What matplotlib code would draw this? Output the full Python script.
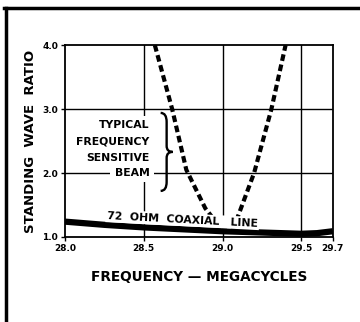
import matplotlib.pyplot as plt
from matplotlib.lines import Line2D
from matplotlib.patches import PathPatch
from matplotlib.path import Path
from matplotlib.transforms import Affine2D, IdentityTransform

# Frequência (MHz) e ROE das duas curvas
freq_coax = [28.0, 28.25, 28.5, 28.75, 29.0, 29.25, 29.5, 29.6, 29.7]
swr_coax = [1.24, 1.19, 1.15, 1.12, 1.09, 1.07, 1.05, 1.06, 1.09]

freq_beam = [28.57, 28.68, 28.77, 28.89, 29.0, 29.07, 29.20, 29.31, 29.40]
swr_beam = [4.0, 3.0, 2.05, 1.45, 1.10, 1.14, 2.0, 3.0, 4.0]

xticks = [28.0, 28.5, 29.0, 29.5, 29.7]
xlabels = ["28.0", "28.5", "29.0", "29.5", "29.7"]
yticks = [1.0, 2.0, 3.0, 4.0]
ylabels = ["1.0", "2.0", "3.0", "4.0"]

fonte = "DejaVu Sans"

fig = plt.figure(figsize=(3.6, 3.22), dpi=100)
ax = fig.add_axes([0.1806, 0.264, 0.744, 0.596])

# grade manual
for x in [28.5, 29.0, 29.5]:
    ax.axvline(x, color="black", lw=1.0, zorder=1)
for y in [2.0, 3.0]:
    ax.axhline(y, color="black", lw=1.0, zorder=1)

ax.plot(freq_coax, swr_coax, color="black", lw=4.5, solid_capstyle="butt", zorder=3)
ax.plot(freq_beam, swr_beam, color="black", lw=3.0, linestyle=(0, (1.6, 0.9)),
        dash_capstyle="butt", zorder=2)

ax.set_xlim(28.0, 29.7)
ax.set_ylim(1.0, 4.0)
ax.set_xticks(xticks)
ax.set_xticklabels(xlabels)
ax.set_yticks(yticks)
ax.set_yticklabels(ylabels)
ax.tick_params(length=3, width=1, pad=2, labelsize=6.5)
for lbl in ax.get_xticklabels() + ax.get_yticklabels():
    lbl.set_family(fonte)
    lbl.set_weight("bold")
for s in ax.spines.values():
    s.set_linewidth(1.3)

ax.set_xlabel("FREQUENCY — MEGACYCLES", family=fonte, weight="bold",
              fontsize=9.8, labelpad=12)
ax.set_ylabel("STANDING  WAVE  RATIO", family=fonte, weight="bold",
              fontsize=9.5, labelpad=4)

caixa = dict(facecolor="white", edgecolor="none", pad=3.2)
linhas = [("TYPICAL", 2.75), ("FREQUENCY", 2.49), ("SENSITIVE", 2.24), ("BEAM", 2.0)]
for txt, y in linhas:
    ax.text(28.537, y, txt, ha="right", va="center", family=fonte, weight="bold",
            fontsize=7.8, bbox=caixa, zorder=4)

# chave "}" desenhada em pixels em torno do centro
pts = [(-6, 39), (0, 39), (0, 30), (0, 6), (0, 0), (6, 0),
       (0, 0), (0, -6), (0, -30), (0, -39), (-6, -39)]
cod = [Path.MOVETO, Path.CURVE3, Path.CURVE3, Path.LINETO, Path.CURVE3, Path.CURVE3,
       Path.CURVE3, Path.CURVE3, Path.LINETO, Path.CURVE3, Path.CURVE3]
cx, cy = ax.transData.transform((28.645, 2.33))
chave = PathPatch(Path(pts, cod), transform=Affine2D().translate(cx, cy) + IdentityTransform(),
                  facecolor="none", edgecolor="black", lw=1.7, zorder=4)
ax.add_patch(chave)

ax.text(28.745, 1.27, "72  OHM  COAXIAL   LINE", ha="center", va="center",
        rotation=-3, family=fonte, weight="bold", fontsize=7.8,
        bbox=dict(facecolor="white", edgecolor="none", pad=1.0), zorder=4)

# moldura da página
fig.add_artist(Line2D([0.012, 1.0], [0.975, 0.975], color="black", lw=2.5,
                      transform=fig.transFigure))
fig.add_artist(Line2D([0.016, 0.016], [0.0, 0.975], color="black", lw=2.5,
                      transform=fig.transFigure))

fig.savefig("out.png", dpi=100)
